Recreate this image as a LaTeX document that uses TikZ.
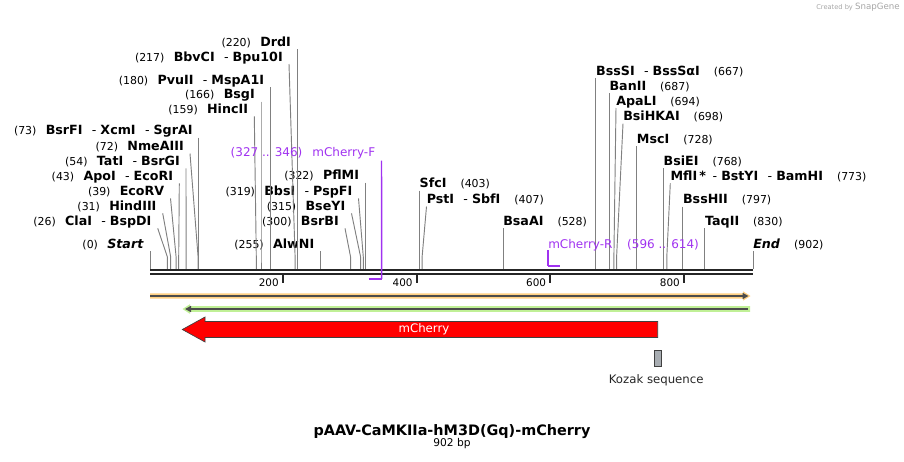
\documentclass[tikz,border=0pt]{standalone}
\usepackage{fontspec}
\setmainfont{DejaVu Sans}
\usetikzlibrary{arrows.meta}
\definecolor{primerpurple}{RGB}{160,50,240}
\definecolor{orangehalo}{RGB}{255,208,130}
\definecolor{greenhalo}{RGB}{192,240,150}
\definecolor{kozakgray}{RGB}{168,173,178}
\newcommand{\sitenum}[1]{{\fontsize{8.2}{10}\selectfont #1}}
\newcommand{\cutsep}{\hspace{7pt}-\hspace{3pt}}
\tikzset{
  cutlab/.style={inner sep=0pt, font=\fontsize{9.5}{11}\selectfont},
  cut/.style={draw=black!50, line width=0.7pt},
  primerlab/.style={inner sep=0pt, text=primerpurple, font=\fontsize{9}{11}\selectfont},
  primerline/.style={draw=primerpurple, line width=1.1pt},
  tick/.style={draw=black!85, line width=1.5pt},
  ticklab/.style={inner sep=0pt, font=\fontsize{7.8}{9}\selectfont},
}
\begin{document}
\begin{tikzpicture}[x=0.75pt,y=-0.75pt]
\useasboundingbox (0,0) rectangle (904,461);
\coordinate (kink) at (0,257);

\coordinate (s0) at (150,269);
\coordinate (s26) at (167.4,269);
\coordinate (s31) at (170.7,269);
\coordinate (s39) at (176.1,269);
\coordinate (s43) at (178.7,269);
\coordinate (s54) at (186.1,269);
\coordinate (s72) at (198.1,269);
\coordinate (s73) at (198.8,269);
\coordinate (s159) at (256.3,269);
\coordinate (s166) at (261.0,269);
\coordinate (s180) at (270.3,269);
\coordinate (s217) at (295.1,269);
\coordinate (s220) at (297.1,269);
\coordinate (s255) at (320.5,269);
\coordinate (s300) at (350.6,269);
\coordinate (s315) at (360.6,269);
\coordinate (s319) at (363.3,269);
\coordinate (s322) at (365.3,269);
\coordinate (s403) at (419.4,269);
\coordinate (s407) at (422.1,269);
\coordinate (s528) at (503.0,269);
\coordinate (s667) at (595.9,269);
\coordinate (s687) at (609.3,269);
\coordinate (s694) at (613.9,269);
\coordinate (s698) at (616.6,269);
\coordinate (s728) at (636.7,269);
\coordinate (s768) at (663.4,269);
\coordinate (s773) at (666.8,269);
\coordinate (s797) at (682.8,269);
\coordinate (s830) at (704.9,269);
\coordinate (s902) at (753.0,269);

\node[cutlab, anchor=base east] (n220) at (291.1,46) {\sitenum{(220)}\hspace{7pt}\textbf{DrdI}};
\node[cutlab, anchor=base east] (n217) at (283,61) {\sitenum{(217)}\hspace{7pt}\textbf{BbvCI}\cutsep\textbf{Bpu10I}};
\node[cutlab, anchor=base east] (n180) at (264.3,84) {\sitenum{(180)}\hspace{7pt}\textbf{PvuII}\cutsep\textbf{MspA1I}};
\node[cutlab, anchor=base east] (n166) at (255,98.5) {\sitenum{(166)}\hspace{7pt}\textbf{BsgI}};
\node[cutlab, anchor=base east] (n159) at (248.3,113.3) {\sitenum{(159)}\hspace{7pt}\textbf{HincII}};
\node[cutlab, anchor=base east] (n73) at (192.8,134.5) {\sitenum{(73)}\hspace{7pt}\textbf{BsrFI}\cutsep\textbf{XcmI}\cutsep\textbf{SgrAI}};
\node[cutlab, anchor=base east] (n72) at (184,150.5) {\sitenum{(72)}\hspace{7pt}\textbf{NmeAIII}};
\node[cutlab, anchor=base east] (n54) at (180,165.3) {\sitenum{(54)}\hspace{7pt}\textbf{TatI}\cutsep\textbf{BsrGI}};
\node[cutlab, anchor=base east] (n43) at (173.3,180.3) {\sitenum{(43)}\hspace{7pt}\textbf{ApoI}\cutsep\textbf{EcoRI}};
\node[cutlab, anchor=base east] (n39) at (164.5,195.3) {\sitenum{(39)}\hspace{7pt}\textbf{EcoRV}};
\node[cutlab, anchor=base east] (n31) at (156.7,210.3) {\sitenum{(31)}\hspace{7pt}\textbf{HindIII}};
\node[cutlab, anchor=base east] (n26) at (151.7,225.3) {\sitenum{(26)}\hspace{7pt}\textbf{ClaI}\cutsep\textbf{BspDI}};
\node[cutlab, anchor=base east] (n0) at (144,248.3) {\sitenum{(0)}\hspace{7pt}\textbf{\textit{Start}}};
\node[cutlab, anchor=base east] (n255) at (314.5,248.3) {\sitenum{(255)}\hspace{7pt}\textbf{AlwNI}};
\node[cutlab, anchor=base east] (n300) at (339,225.3) {\sitenum{(300)}\hspace{7pt}\textbf{BsrBI}};
\node[cutlab, anchor=base east] (n315) at (345.5,210.3) {\sitenum{(315)}\hspace{7pt}\textbf{BseYI}};
\node[cutlab, anchor=base east] (n319) at (352.5,195.3) {\sitenum{(319)}\hspace{7pt}\textbf{BbsI}\cutsep\textbf{PspFI}};
\node[cutlab, anchor=base east] (n322) at (359.3,179.5) {\sitenum{(322)}\hspace{7pt}\textbf{PflMI}};

\node[cutlab, anchor=base west] (n403) at (419.4,187.5) {\textbf{SfcI}\hspace{10.5pt}\sitenum{(403)}};
\node[cutlab, anchor=base west] (n407) at (426.5,203.5) {\textbf{PstI}\cutsep\textbf{SbfI}\hspace{10.5pt}\sitenum{(407)}};
\node[cutlab, anchor=base west] (n528) at (503,225.3) {\textbf{BsaAI}\hspace{10.5pt}\sitenum{(528)}};
\node[cutlab, anchor=base west] (n667) at (595.9,75.3) {\textbf{BssSI}\cutsep\textbf{BssSαI}\hspace{10.5pt}\sitenum{(667)}};
\node[cutlab, anchor=base west] (n687) at (609.3,90) {\textbf{BanII}\hspace{10.5pt}\sitenum{(687)}};
\node[cutlab, anchor=base west] (n694) at (616,105) {\textbf{ApaLI}\hspace{10.5pt}\sitenum{(694)}};
\node[cutlab, anchor=base west] (n698) at (623,120.7) {\textbf{BsiHKAI}\hspace{10.5pt}\sitenum{(698)}};
\node[cutlab, anchor=base west] (n728) at (636.7,143.3) {\textbf{MscI}\hspace{10.5pt}\sitenum{(728)}};
\node[cutlab, anchor=base west] (n768) at (663.4,165.3) {\textbf{BsiEI}\hspace{10.5pt}\sitenum{(768)}};
\node[cutlab, anchor=base west] (n773) at (670.3,180.3) {\textbf{MflI}\,\textbf{*}\hspace{5pt}-\hspace{3pt}\textbf{BstYI}\cutsep\textbf{BamHI}\hspace{10.5pt}\sitenum{(773)}};
\node[cutlab, anchor=base west] (n797) at (682.8,203.5) {\textbf{BssHII}\hspace{10.5pt}\sitenum{(797)}};
\node[cutlab, anchor=base west] (n830) at (704.9,225.3) {\textbf{TaqII}\hspace{10.5pt}\sitenum{(830)}};
\node[cutlab, anchor=base west] (n902) at (753,248.3) {\textbf{\textit{End}}\hspace{10.5pt}\sitenum{(902)}};

\draw[cut] (n220.base east) ++(6,3) -- (s220 |- kink) -- (s220);
\draw[cut] (n217.base east) ++(6,3) -- (s217 |- kink) -- (s217);
\draw[cut] (n180.base east) ++(6,3) -- (s180 |- kink) -- (s180);
\draw[cut] (n166.base east) ++(6,3) -- (s166 |- kink) -- (s166);
\draw[cut] (n159.base east) ++(6,3) -- (s159 |- kink) -- (s159);
\draw[cut] (n73.base east) ++(6,3) -- (s73 |- kink) -- (s73);
\draw[cut] (n72.base east) ++(6,3) -- (s72 |- kink) -- (s72);
\draw[cut] (n54.base east) ++(6,3) -- (s54 |- kink) -- (s54);
\draw[cut] (n43.base east) ++(6,3) -- (s43 |- kink) -- (s43);
\draw[cut] (n39.base east) ++(6,3) -- (s39 |- kink) -- (s39);
\draw[cut] (n31.base east) ++(6,3) -- (s31 |- kink) -- (s31);
\draw[cut] (n26.base east) ++(6,3) -- (s26 |- kink) -- (s26);
\draw[cut] (n0.base east) ++(6,3) -- (s0);
\draw[cut] (n255.base east) ++(6,3) -- (s255);
\draw[cut] (n300.base east) ++(6,3) -- (s300 |- kink) -- (s300);
\draw[cut] (n315.base east) ++(6,3) -- (s315 |- kink) -- (s315);
\draw[cut] (n319.base east) ++(6,3) -- (s319 |- kink) -- (s319);
\draw[cut] (n322.base east) ++(6,3) -- (s322 |- kink) -- (s322);

\draw[cut] (n403.base west) ++(0,3) -- (s403);
\draw[cut] (n407.base west) ++(0,3) -- (s407 |- kink) -- (s407);
\draw[cut] (n528.base west) ++(0,3) -- (s528);
\draw[cut] (n667.base west) ++(0,3) -- (s667);
\draw[cut] (n687.base west) ++(0,3) -- (s687);
\draw[cut] (n694.base west) ++(0,3) -- (s694 |- kink) -- (s694);
\draw[cut] (n698.base west) ++(0,3) -- (s698 |- kink) -- (s698);
\draw[cut] (n728.base west) ++(0,3) -- (s728);
\draw[cut] (n768.base west) ++(0,3) -- (s768);
\draw[cut] (n773.base west) ++(0,3) -- (s773 |- kink) -- (s773);
\draw[cut] (n797.base west) ++(0,3) -- (s797);
\draw[cut] (n830.base west) ++(0,3) -- (s830);
\draw[cut] (n902.base west) ++(0,3) -- (s902);

\draw[black!85, line width=1.8pt] (150,270.2) -- (753,270.2);
\draw[black!85, line width=1.8pt] (150,274.1) -- (753,274.1);

\draw[tick] (283.3,275) -- (283.3,283);
\draw[tick] (416.7,275) -- (416.7,283);
\draw[tick] (550.3,275) -- (550.3,283);
\draw[tick] (683.9,275) -- (683.9,283);
\node[ticklab, anchor=base east] (l200) at (279,286) {200};
\node[ticklab, anchor=base east] (l400) at (412.8,286) {400};
\node[ticklab, anchor=base east] (l600) at (546.3,286) {600};
\node[ticklab, anchor=base east] (l800) at (680,286) {800};

\coordinate (pF1) at (368.6,278.8);
\coordinate (pF2) at (381.6,278.8);
\node[primerlab, anchor=base east] (mchF) at (375.5,156.7) {(327 .. 346)\hspace{7.5pt}mCherry-F};
\draw[primerline] (mchF.base east) ++(6,4) -- (pF2);
\draw[primerpurple, line width=1.3pt] (pF1) -- (pF2);

\coordinate (pR1) at (548,265.8);
\coordinate (pR2) at (560,265.8);
\node[primerlab, anchor=base west] (mchR) at (548,248.3) {mCherry-R\hspace{11pt}(596 .. 614)};
\draw[primerline] (mchR.base west) ++(0,2) -- (pR1);
\draw[primerpurple, line width=1.3pt] (pR1) -- (pR2);

\fill[orangehalo] (150,293.3) -- (743,293.3) -- (743,291.3) -- (750.5,296) -- (743,300.7) -- (743,298.7) -- (150,298.7) -- cycle;
\draw[black!70, line width=1.4pt, -{Triangle[length=4.5pt,width=4.5pt]}] (150,296) -- (748.5,296);

\fill[greenhalo] (750,306.2) -- (190,306.2) -- (190,304.2) -- (182.5,309) -- (190,313.8) -- (190,311.8) -- (750,311.8) -- cycle;
\draw[black!70, line width=1.4pt, {Triangle[length=4.5pt,width=4.5pt]}-] (185,309) -- (748,309);

\draw[fill=red, draw=black!75, line width=0.5pt] (657.7,321.5) -- (205,321.5) -- (205,317) -- (182.3,329.5) -- (205,342) -- (205,337.5) -- (657.7,337.5) -- cycle;
\node[text=white, font=\fontsize{8.8}{10}\selectfont] (mcherry) at (424,329.5) {mCherry};

\node[draw=black!75, fill=kozakgray, line width=0.6pt, inner sep=0pt, minimum width=5.5pt, minimum height=12.3pt] (kozak) at (658,358.5) {};
\node[anchor=base, inner sep=0pt, font=\fontsize{8.8}{10}\selectfont, text=black!85] (kozaklab) at (656.2,383.3) {Kozak sequence};

\node[anchor=base, inner sep=0pt, font=\bfseries\fontsize{10.8}{13}\selectfont] (title) at (452,435) {pAAV-CaMKIIa-hM3D(Gq)-mCherry};
\node[anchor=base, inner sep=0pt, font=\fontsize{8}{10}\selectfont] (length) at (452,446.7) {902 bp};

\node[anchor=east, inner sep=0pt, text=black!35, font=\fontsize{5}{6}\selectfont] (credit) at (900,7) {Created by \fontsize{6.5}{7}\selectfont SnapGene};
\end{tikzpicture}
\end{document}
